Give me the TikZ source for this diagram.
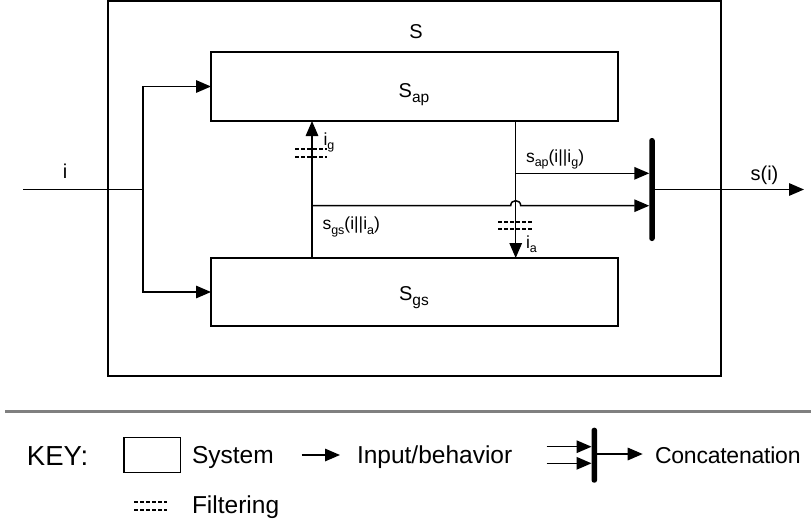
\documentclass[tikz,border=0pt]{standalone}
\usepackage{fontspec}
\setmainfont{Liberation Sans}
\usetikzlibrary{arrows.meta}
\definecolor{keygray}{RGB}{128,128,128}
\newcommand\subs[2]{\raisebox{-0.28em}{\fontsize{#1}{#1}\selectfont #2}}
\begin{document}
\begin{tikzpicture}[x=1pt,y=-1pt,
  sysbox/.style={draw, line width=1.5pt, inner sep=0pt, outer sep=0pt},
  conn/.style={line width=1.5pt},
  arr/.style={conn, -{Triangle[length=15pt,width=12.5pt]}},
  catbar/.style={fill=black, draw=none, minimum width=5.5pt, inner sep=0pt, outer sep=0pt, rounded corners=2.5pt},
  filt/.style={line width=2pt, dash pattern=on 4pt off 2pt},
  bigtxt/.style={inner sep=0pt, outer sep=0pt, font=\fontsize{20}{20}\selectfont},
  lbl/.style={inner sep=0pt, outer sep=0pt, font=\fontsize{17.5}{17.5}\selectfont},
  ktxt/.style={inner sep=0pt, outer sep=0pt, font=\fontsize{24.5}{24.5}\selectfont},
  ktitle/.style={inner sep=0pt, outer sep=0pt, font=\fontsize{27.5}{27.5}\selectfont}
]
\useasboundingbox (0,0) rectangle (811,523);

% systems
\node[sysbox, line width=1.6pt, minimum width=613pt, minimum height=375pt] (sys) at (414.5,188.5) {};
\node[sysbox, minimum width=407pt, minimum height=69pt] (sap) at (414.5,86.5) {};
\node[sysbox, minimum width=407pt, minimum height=68pt] (sgs) at (414.5,292) {};
\node[catbar, minimum height=103pt] (cat) at (652,189.5) {};

% texts
\node[bigtxt, anchor=base] (tS) at (416,38.5) {S};
\node[bigtxt, anchor=base] (tap) at (414,97) {S\subs{15.5pt}{ap}};
\node[bigtxt, anchor=base] (tgs) at (414,300) {S\subs{15.5pt}{gs}};
\node[bigtxt, anchor=base] (ti) at (65,178) {i};
\node[bigtxt, anchor=base] (tsi) at (764.5,180) {s(i)};
\node[lbl, anchor=base west] (lap) at (526,162) {s\subs{12.5pt}{ap}(i||i\subs{12.5pt}{g})};
\node[lbl, anchor=base west] (lgs) at (322.5,229.5) {s\subs{12.5pt}{gs}(i||i\subs{12.5pt}{a})};
\node[lbl, anchor=base west] (lig) at (323.5,145) {i\subs{12.5pt}{g}};
\node[lbl, anchor=base west] (lia) at (526,248) {i\subs{12.5pt}{a}};

% connectors
\coordinate (in) at (23,189.5);
\coordinate (br) at (143,189.5);
\coordinate (out) at (804,189.5);
\coordinate (gx) at (312,0);
\coordinate (ax) at (515.7,0);
\coordinate (j1) at (312,205.7);
\coordinate (j2) at (515.7,173.3);

\draw[conn] (in) -- (br);
\draw[arr] (br) |- (sap.west);
\draw[arr] (br) |- (sgs.west);
\draw[arr] (sgs.north -| gx) -- (sap.south -| gx);
\draw[arr] (sap.south -| ax) -- (sgs.north -| ax);
\draw[arr] (j2) -- (j2 -| cat.west);
\draw[arr] (j1) -- (510.7,205.7) .. controls (510.7,199) and (520.7,199) .. (520.7,205.7) -- (j1 -| cat.west);
\draw[arr] (cat.east |- out) -- (out);

% filters
\draw[filt] (295,149) -- (327,149);
\draw[filt] (295,156.7) -- (327,156.7);
\draw[filt] (498,221.7) -- (532,221.7);
\draw[filt] (498,228.7) -- (532,228.7);

% key
\draw[keygray, line width=3pt] (5,411) -- (811,411);
\node[ktitle, anchor=base west] (key) at (27,465) {KEY:};
\node[sysbox, minimum width=56.7pt, minimum height=34.6pt] (ksys) at (152.3,455) {};
\node[ktxt, anchor=base west] (tsys) at (192,463.3) {System};
\coordinate (ka1) at (301.7,455);
\coordinate (ka2) at (340,455);
\draw[arr] (ka1) -- (ka2);
\node[ktxt, anchor=base west] (tinp) at (357,463.3) {Input/behavior};
\node[catbar, minimum height=55pt] (kcat) at (594.3,455.2) {};
\coordinate (kc1) at (546.7,446.7);
\coordinate (kc2) at (546.7,463.3);
\coordinate (kco) at (642.7,454);
\draw[arr] (kc1) -- (kc1 -| kcat.west);
\draw[arr] (kc2) -- (kc2 -| kcat.west);
\draw[arr] (kcat.east |- kco) -- (kco);
\node[ktxt, font=\fontsize{23}{23}\selectfont\addfontfeature{LetterSpace=-1}, anchor=base west] (tcat) at (655,463.3) {Concatenation};
\draw[filt] (134,502) -- (167,502);
\draw[filt] (134,510) -- (167,510);
\node[ktxt, anchor=base west] (tfil) at (192,513) {Filtering};
\end{tikzpicture}
\end{document}
